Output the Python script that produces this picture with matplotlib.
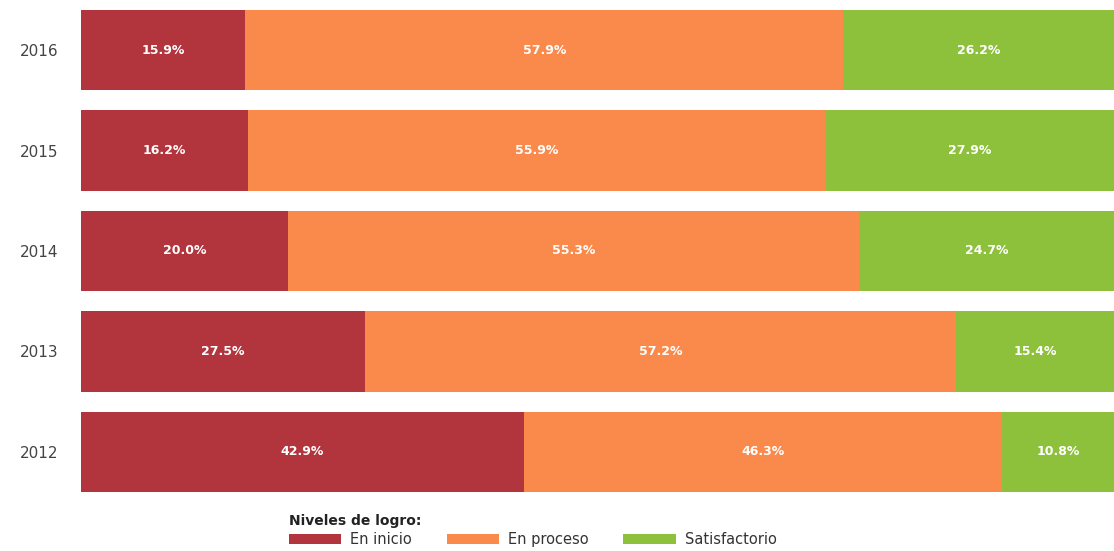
import numpy as np
import matplotlib.pyplot as plt
from matplotlib.patches import Patch

years = ["2012", "2013", "2014", "2015", "2016"]
en_inicio = [42.9, 27.5, 20.0, 16.2, 15.9]
en_proceso = [46.3, 57.2, 55.3, 55.9, 57.9]
satisfactorio = [10.8, 15.4, 24.7, 27.9, 26.2]

series = [("En inicio", en_inicio, "#B2343D"),
          ("En proceso", en_proceso, "#F98A4B"),
          ("Satisfactorio", satisfactorio, "#8DC03B")]

fig = plt.figure(figsize=(11.14, 5.51), dpi=100)
ax = fig.add_axes([0.0727, 0.089, 0.9273, 0.911])

y = np.arange(len(years))
left = np.zeros(len(years))
for name, vals, col in series:
    vals = np.array(vals)
    ax.barh(y, vals, left=left, height=0.8, color=col, edgecolor="none")
    for yi, l, v in zip(y, left, vals):
        ax.text(l + v / 2, yi, f"{v:.1f}%", ha="center", va="center",
                color="white", fontsize=9, fontweight="bold")
    left += vals

ax.set_xlim(0, 100)
ax.set_ylim(-0.5, len(years) - 0.5)
ax.set_yticks(y)
ax.set_yticklabels(years, fontsize=11, color="#444444")
ax.tick_params(axis="y", length=0, pad=16)
ax.set_xticks([])
for s in ax.spines.values():
    s.set_visible(False)

handles = [Patch(facecolor=c, label=n) for n, _, c in series]
leg = fig.legend(handles=handles, loc="upper left", bbox_to_anchor=(0.259, 0.068),
                 ncol=3, frameon=False, title="Niveles de logro:",
                 fontsize=10.5, title_fontsize=10, handlelength=3.6, handleheight=0.7,
                 columnspacing=2.4, handletextpad=0.6, borderpad=0, borderaxespad=0,
                 labelspacing=0.3)
leg.get_title().set_fontweight("bold")
leg.get_title().set_color("#222222")
leg._legend_box.align = "left"
for t in leg.get_texts():
    t.set_color("#333333")

fig.savefig("out.png", dpi=100)
